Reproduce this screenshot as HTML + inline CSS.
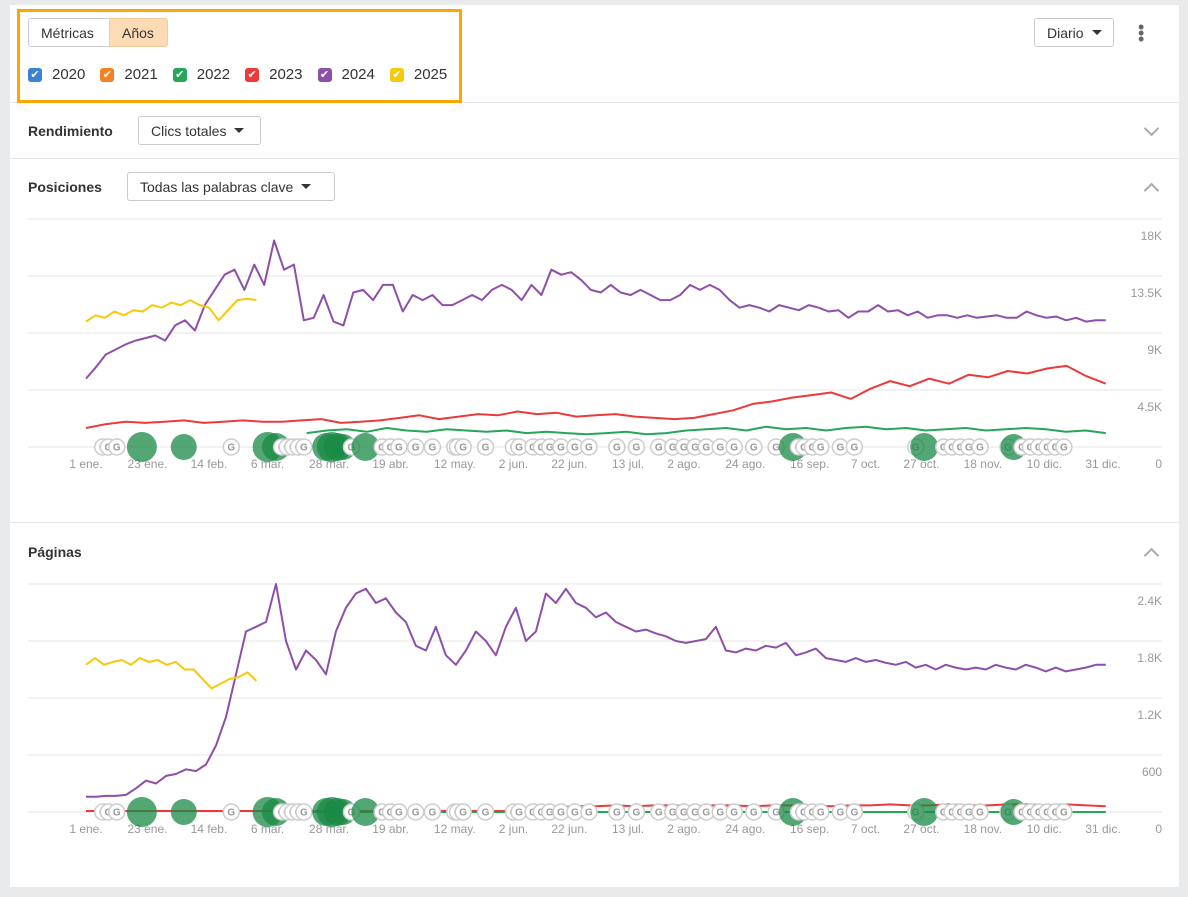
<!DOCTYPE html>
<html><head><meta charset="utf-8">
<style>
body{margin:0;background:#e9eaec;font-family:"Liberation Sans",sans-serif;color:#333;width:1188px;height:897px;overflow:hidden;position:relative}
.card{position:absolute;left:10px;top:5px;width:1169px;height:882px;background:#fff}
.abs{position:absolute}
.btn{position:absolute;border:1px solid #ccc;border-radius:3px;background:#fff;font-size:14px;color:#333;box-sizing:border-box;display:flex;align-items:center;padding:0 12px}
.caret{display:inline-block;width:0;height:0;border-left:5px solid transparent;border-right:5px solid transparent;border-top:5px solid #333;margin-left:8px}
.hr{position:absolute;left:0;width:1169px;height:1px;background:#e6e6e6}
.title{position:absolute;font-weight:bold;font-size:14px;color:#333}
.cb{display:inline-flex;align-items:center;margin-right:15px;font-size:15px}
.cb i{width:14px;height:14px;border-radius:3px;display:inline-block;margin-right:10px;color:#fff;font-style:normal;font-size:11px;line-height:14px;text-align:center}
.chev{position:absolute;width:9px;height:9px;border-right:2px solid #aaa;border-bottom:2px solid #aaa}
svg text{font-family:"Liberation Sans",sans-serif}
</style></head><body>
<div class="card">
  <div class="hr" style="top:97px"></div>
  <div class="abs" style="left:7px;top:4px;width:439px;height:88px;border:3px solid #ffa500;background:#fff"></div>
  <div class="btn" style="left:18px;top:13px;width:82px;height:29px;border-radius:3px 0 0 3px">Métricas</div>
  <div class="btn" style="left:99px;top:13px;width:59px;height:29px;background:#fddcb5;border-color:#f5c99a;border-radius:0 3px 3px 0">Años</div>
  <div class="abs" style="left:18px;top:61px;display:flex">
    <span class="cb"><i style="background:#3b82d6">✔</i>2020</span>
    <span class="cb"><i style="background:#f58220">✔</i>2021</span>
    <span class="cb"><i style="background:#26a65b">✔</i>2022</span>
    <span class="cb"><i style="background:#ea3a3a">✔</i>2023</span>
    <span class="cb"><i style="background:#8e4fa8">✔</i>2024</span>
    <span class="cb"><i style="background:#f7c90a">✔</i>2025</span>
  </div>
  <div class="btn" style="left:1024px;top:13px;width:80px;height:29px">Diario<span class="caret"></span></div>
  <div class="abs" style="left:1128px;top:19px;width:4px;color:#666;font-size:18px;line-height:6px">•<br>•<br>•</div>
  <div class="title" style="left:18px;top:118px">Rendimiento</div>
  <div class="btn" style="left:128px;top:111px;width:123px;height:29px">Clics totales<span class="caret"></span></div>
  <div class="chev" style="left:1136px;top:118px;transform:rotate(45deg)"></div>
  <div class="hr" style="top:153px"></div>
  <div class="title" style="left:18px;top:174px">Posiciones</div>
  <div class="btn" style="left:117px;top:167px;width:208px;height:29px">Todas las palabras clave<span class="caret"></span></div>
  <div class="chev" style="left:1136px;top:180px;transform:rotate(-135deg)"></div>
  <div class="hr" style="top:517px"></div>
  <div class="title" style="left:18px;top:539px">Páginas</div>
  <div class="chev" style="left:1136px;top:545px;transform:rotate(-135deg)"></div>
</div>
<svg id="chart" width="1188" height="897" style="position:absolute;left:0;top:0"></svg>
<script>
// ---- data ----
const monthLabels=["1 ene.","23 ene.","14 feb.","6 mar.","28 mar.","19 abr.","12 may.","2 jun.","22 jun.","13 jul.","2 ago.","24 ago.","16 sep.","7 oct.","27 oct.","18 nov.","10 dic.","31 dic."];
const labelDays=[0,22,44,65,87,109,132,153,173,194,214,236,259,279,299,321,343,364];
const posTicks=["0","4.5K","9K","13.5K","18K"];
const posTickVals=[0,4.5,9,13.5,18];
const pagTicks=["0","600","1.2K","1.8K","2.4K"];
const pagTickVals=[0,0.6,1.2,1.8,2.4];
// Posiciones (K)
const pos2024=[5.4,6.3,7.3,7.7,8.1,8.4,8.6,8.8,8.4,9.6,10.0,9.2,11.2,12.4,13.6,14.0,12.4,14.4,12.8,16.3,14.0,14.4,10.0,10.2,12.0,9.9,9.6,12.2,12.4,11.6,12.8,12.8,10.7,12.0,11.6,12.0,11.2,11.2,11.6,12.0,11.6,12.4,12.8,12.4,11.6,12.8,12.0,14.0,13.6,13.8,13.2,12.4,12.2,12.8,12.2,12.0,12.4,12.0,11.6,11.6,12.0,12.8,12.4,12.8,12.4,11.6,11.0,11.2,11.0,10.7,11.2,11.0,10.8,11.2,11.0,10.7,10.8,10.2,10.7,10.7,11.2,10.7,10.8,10.4,10.7,10.2,10.4,10.4,10.2,10.4,10.2,10.3,10.4,10.2,10.2,10.7,10.4,10.2,10.3,10.0,10.2,9.9,10.0,10.0];
const pos2025=[9.9,10.4,10.2,10.7,10.4,10.8,10.7,11.2,11.0,11.4,11.2,11.6,11.2,11.0,10.0,10.8,11.6,11.7,11.6];
const pos2023=[1.5,1.8,2.0,1.9,2.0,2.1,1.9,2.0,2.1,2.0,2.0,2.1,2.2,1.9,2.0,2.1,2.3,2.5,2.2,2.4,2.6,2.5,2.8,2.6,2.7,2.4,2.5,2.6,2.4,2.3,2.2,2.3,2.6,2.9,3.4,3.6,3.9,4.1,4.3,3.8,4.6,5.2,4.8,5.4,5.0,5.7,5.5,6.0,5.8,6.2,6.4,5.6,5.0];
const pos2022=[1.1,1.3,1.4,1.2,1.5,1.3,1.2,1.4,1.3,1.2,1.3,1.1,1.2,1.1,1.0,1.1,1.2,1.0,1.1,1.3,1.4,1.5,1.3,1.6,1.4,1.5,1.3,1.5,1.6,1.4,1.5,1.3,1.4,1.5,1.3,1.4,1.5,1.4,1.2,1.3,1.1];
// Páginas (K)
const pag2024=[0.16,0.16,0.17,0.17,0.18,0.25,0.33,0.30,0.38,0.40,0.45,0.43,0.50,0.70,1.00,1.45,1.90,1.95,2.00,2.40,1.80,1.50,1.70,1.60,1.45,1.90,2.15,2.30,2.35,2.20,2.25,2.10,2.00,1.75,1.70,1.95,1.65,1.55,1.70,1.90,1.80,1.65,1.95,2.15,1.80,1.90,2.30,2.20,2.35,2.20,2.15,2.05,2.10,2.00,1.95,1.90,1.92,1.88,1.85,1.80,1.78,1.80,1.82,1.95,1.70,1.68,1.72,1.70,1.75,1.73,1.78,1.65,1.68,1.72,1.62,1.60,1.58,1.62,1.58,1.60,1.57,1.55,1.58,1.52,1.55,1.50,1.55,1.52,1.50,1.52,1.50,1.55,1.52,1.50,1.55,1.52,1.48,1.52,1.48,1.50,1.52,1.55,1.55];
const pag2025=[1.55,1.62,1.55,1.58,1.60,1.55,1.62,1.58,1.60,1.55,1.58,1.50,1.50,1.40,1.30,1.35,1.40,1.42,1.47,1.38];
const pag2023=[0.01,0.01,0.01,0.01,0.01,0.01,0.01,0.01,0.01,0.01,0.01,0.01,0.01,0.01,0.01,0.01,0.01,0.01,0.01,0.01,0.01,0.01,0.01,0.03,0.05,0.06,0.06,0.07,0.06,0.07,0.07,0.06,0.07,0.07,0.06,0.07,0.07,0.07,0.06,0.07,0.07,0.08,0.07,0.07,0.08,0.07,0.07,0.08,0.08,0.07,0.08,0.07,0.06];
const pag2022=[0.0,0.0,0.0,0.0,0.0,0.0,0.0,0.0,0.0,0.0,0.0,0.0,0.0,0.0,0.0,0.0,0.0,0.0,0.0,0.0,0.0,0.0,0.0,0.0,0.0,0.0,0.0,0.0,0.0,0.0,0.0,0.0,0.0,0.0,0.0,0.0,0.0,0.0,0.0,0.0,0.0];
// annotation markers (day, size: 0 = small G, >0 big circle radius)
const annDays=[6,8,11,20,35,52,65,68,70,72,74,76,78,86,88,90,92,95,100,106,109,112,118,124,132,133,135,143,153,155,160,163,166,170,175,180,190,197,205,210,214,218,222,227,232,239,247,253,255,257,260,263,270,275,297,300,307,310,313,316,320,330,332,335,338,341,344,347,350];
const annSize=[0,0,0,15,13,0,15,14,0,0,0,0,0,14,15,14,13,0,14,0,0,0,0,0,0,0,0,0,0,0,0,0,0,0,0,0,0,0,0,0,0,0,0,0,0,0,0,14,0,0,0,0,0,0,0,14,0,0,0,0,0,0,13,0,0,0,0,0,0];

const NS="http://www.w3.org/2000/svg";
const svg=document.getElementById('chart');
const X0=86,X1=1103;
const xs=d=>X0+(X1-X0)*d/364;
function mk(tag,attrs,parent){const e=document.createElementNS(NS,tag);for(const k in attrs)e.setAttribute(k,attrs[k]);(parent||svg).appendChild(e);return e;}

function drawChart(name,top,bottom,maxV,ticks,tickVals,series){
  const g=mk('g',{});
  
  
  const ys=v=>bottom-(bottom-top)*v/maxV;
  tickVals.forEach((tv,i)=>{
    const gl=mk('line',{x1:28,x2:1162,y1:ys(tv),y2:ys(tv),stroke:'#e6e6e6','stroke-width':1},g);
    
    
    const t=mk('text',{x:1162,y:ys(tv)+21,'text-anchor':'end','font-size':12,fill:'#999'},g);
    
    
    t.textContent=ticks[i];
  });
  monthLabels.forEach((lab,i)=>{
    const t=mk('text',{x:xs(labelDays[i]),y:bottom+21,'text-anchor':'middle','font-size':12,fill:'#999'},g);
    
    
    t.textContent=lab;
  });
  series.forEach(s=>{
    const n=s.vals.length;
    const pts=s.vals.map((v,i)=>xs(s.d0+(s.d1-s.d0)*i/(n-1)).toFixed(1)+','+ys(v).toFixed(1)).join(' ');
    const p=mk('polyline',{points:pts,fill:'none',stroke:s.color,'stroke-width':2,'stroke-linejoin':'round'},g);
    
    
  });
  annDays.forEach((d,i)=>{
    const cx=xs(d),cy=bottom;
    if(annSize[i]>0){
      const c=mk('circle',{cx:cx,cy:cy,r:annSize[i],fill:'#1a8a46','fill-opacity':0.75},g);
      
      
    }else{
      const c=mk('circle',{cx:cx,cy:cy,r:8,fill:'#fff',stroke:'#ccc','stroke-width':1.5},g);
      
      
      const t=mk('text',{x:cx,y:cy+3.5,'text-anchor':'middle','font-size':10,'font-weight':'bold',fill:'#999'},g);
      
      
      t.textContent='G';
    }
  });
}
drawChart('posiciones-chart',219,447,18,posTicks,posTickVals,[
  {name:'line-2022',color:'#26a65b',vals:pos2022,d0:79,d1:365},
  {name:'line-2023',color:'#ea3a3a',vals:pos2023,d0:0,d1:365},
  {name:'line-2024',color:'#8e4fa8',vals:pos2024,d0:0,d1:365},
  {name:'line-2025',color:'#f7c90a',vals:pos2025,d0:0,d1:61}
]);
drawChart('paginas-chart',584,812,2.4,pagTicks,pagTickVals,[
  {name:'line-2022',color:'#26a65b',vals:pag2022,d0:79,d1:365},
  {name:'line-2023',color:'#ea3a3a',vals:pag2023,d0:0,d1:365},
  {name:'line-2024',color:'#8e4fa8',vals:pag2024,d0:0,d1:365},
  {name:'line-2025',color:'#f7c90a',vals:pag2025,d0:0,d1:61}
]);
</script>
</body></html>
